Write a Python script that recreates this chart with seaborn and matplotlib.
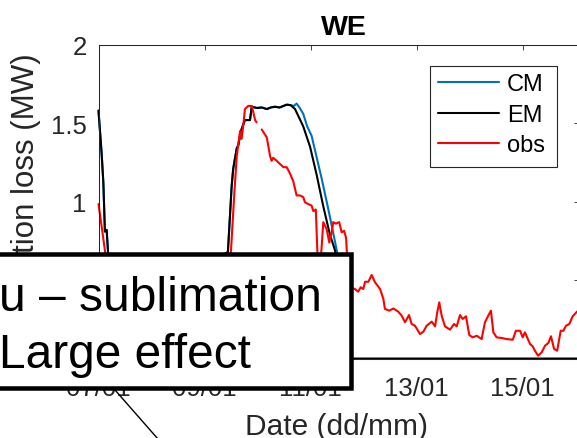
import numpy as np
import pandas as pd
import matplotlib
matplotlib.use("Agg")
import matplotlib.pyplot as plt
import matplotlib.dates as mdates
from matplotlib.patches import Rectangle
from matplotlib.lines import Line2D
import seaborn as sns

# hours after 07/01 00:00 and production loss (MW)
cm_hours = [0, 1.45, 2.2, 2.9, 3.7, 4.4, 5.5, 7, 8, 55.8, 56.4, 58.6, 60.3, 61.0, 62.6, 63.3,
            64.5, 66.3, 68.6, 69.4, 71.6, 74, 76.2, 78, 79.9, 82, 85.2, 87, 88.5, 89.7, 91,
            92.7, 94.5, 96.5, 98.5, 101.1, 104.4, 107.9, 110, 113, 114.5, 218]
cm_mw = [1.58, 1.30, 1.12, 0.81, 0.82, 0.66, 0.35, 0.05, 0, 0, 0.66, 0.68, 1.10, 1.21, 1.34, 1.36,
         1.45, 1.52, 1.52, 1.605, 1.597, 1.60, 1.59, 1.60, 1.605, 1.60, 1.618, 1.615, 1.61, 1.625, 1.60,
         1.56, 1.48, 1.42, 1.30, 1.145, 0.93, 0.69, 0.45, 0.1, 0, 0]

em_hours = [0, 1.45, 2.2, 2.9, 3.7, 4.4, 5.5, 7, 8, 55.8, 56.4, 58.6, 60.3, 61.0, 62.6, 63.3,
            64.5, 66.3, 68.6, 69.4, 71.6, 74, 76.2, 78, 79.9, 82, 85.2, 87, 89, 92.7, 95.8,
            98.8, 101.8, 104.8, 107.1, 109, 112, 113, 218]
em_mw = [1.58, 1.30, 1.12, 0.81, 0.82, 0.66, 0.35, 0.05, 0, 0, 0.66, 0.68, 1.10, 1.21, 1.34, 1.36,
         1.45, 1.52, 1.52, 1.605, 1.597, 1.60, 1.59, 1.60, 1.605, 1.60, 1.618, 1.615, 1.59, 1.48, 1.35,
         1.17, 0.97, 0.79, 0.69, 0.5, 0.1, 0, 0]

obs_hours = [0, 1.45, 2.9, 4, 6, 20, 40, 55, 58.5, 60.0, 61.5, 62.6, 64.1, 64.8, 65.6, 66.3,
             67.8, 69.4, 70.1, 70.9, 71.6, 72.8, 73.9, 76.2, 77.7, 78.4, 79.1, 80.7, 82.2, 83.7,
             85.2, 86.7, 88.2, 89.7, 91.2, 92.7, 93.5, 95.0, 96.5, 97.3, 98.4, 99.6, 100.5, 101.8,
             103.3, 104.5, 105.6, 106.3, 107.5, 109.0, 110.1, 111.2, 112.1, 113, 114.5, 116.1,
             117.6, 118.7, 119.9, 120.7, 122.2, 123.7, 125.2, 127.5, 129.0, 129.7, 131.7, 133.5,
             135.7, 137.3, 138.8, 140.6, 141.8, 143.3, 145.6, 147.1, 148.6, 150.9, 152.4, 153.4,
             154.3, 155.4, 156.9, 159.2, 161.0, 162.2, 163.7, 164.9, 166.4, 167.9, 169.4, 171.3,
             173.5, 175.0, 176.5, 177.7, 178.8, 180.3, 182.6, 184.8, 187.6, 189.0, 190.9, 192.1,
             193.1, 195.4, 196.6, 197.6, 199.1, 200.7, 202.2, 203.7, 204.9, 206.3, 207.7, 209.3,
             210.5, 211.7, 213.2, 214.7, 216.7, 218]
obs_mw = [0.985, 0.84, 0.69, 0.5, 0.35, 0.3, 0.25, 0.3, 0.5, 0.69, 1.05, 1.29, 1.45, 1.40, 1.49, 1.59,
          1.61, 1.61, 1.57, 1.52, 1.505, np.nan, 1.46, 1.41, 1.29, 1.26, 1.28, 1.26, 1.24, 1.22,
          1.22, 1.18, 1.13, 1.04, 1.04, 1.03, 0.996, 0.985, 0.975, 0.94, 0.95, 0.5, 0.6, 0.87,
          0.826, 0.74, 0.805, 0.87, 0.86, 0.87, 0.805, 0.815, 0.77, 0.55, 0.45, 0.444,
          0.427, 0.455, 0.444, 0.49, 0.49, 0.533, 0.487, 0.444, 0.38, 0.317, 0.306, 0.32,
          0.30, 0.274, 0.232, 0.278, 0.221, 0.21, 0.157, 0.172, 0.21, 0.236, 0.206, 0.296,
          0.359, 0.274, 0.206, 0.185, 0.221, 0.206, 0.278, 0.253, 0.27, 0.151, 0.136, 0.146,
          0.125, 0.232, 0.274, 0.306, 0.168, 0.136, 0.132, 0.125, 0.121, 0.178, 0.178, 0.136,
          0.168, 0.094, 0.079, 0.051, 0.019, 0.041, 0.083, 0.1, 0.143, 0.062, 0.051, 0.178,
          0.178, 0.21, 0.221, 0.27, 0.30, 0.31]

series_names = ["CM", "EM", "obs"]
series_colors = ["#0072BD", "#000000", "#FF0000"]
yticks = [0, 0.5, 1, 1.5, 2]
start = pd.Timestamp("2016-01-07")
xtick_dates = pd.date_range(start, periods=5, freq="2D")

frames = []
for name, hrs, vals in zip(series_names, [cm_hours, em_hours, obs_hours], [cm_mw, em_mw, obs_mw]):
    f = pd.DataFrame({"time": start + pd.to_timedelta(hrs, unit="h"), "mw": vals, "series": name})
    f["seg"] = name + f["mw"].isna().cumsum().astype(str)
    frames.append(f.dropna())
df = pd.concat(frames, ignore_index=True)

sns.set_style("white")
plt.rcParams["font.family"] = ["Liberation Sans", "DejaVu Sans"]

W, H = 577, 439
fig = plt.figure(figsize=(W / 100, H / 100), dpi=100)
ax_l, ax_r, ax_t, ax_b = 98.5, 578.5, 45.7, 359.7
ax = fig.add_axes([ax_l / W, 1 - ax_b / H, (ax_r - ax_l) / W, (ax_b - ax_t) / H])


def ax_pt(px, py):
    # picture pixels -> axes fraction
    return (px - ax_l) / (ax_r - ax_l), (ax_b - py) / (ax_b - ax_t)


sns.lineplot(data=df, x="time", y="mw", hue="series", hue_order=series_names,
             palette=dict(zip(series_names, series_colors)), units="seg", estimator=None,
             sort=False, lw=1.5, ax=ax)
for ln in ax.lines:
    ln.set_clip_on(False)

ax.set_xticks(xtick_dates)
ax.xaxis.set_major_formatter(mdates.DateFormatter("%d/%m"))
ax.set_xlim(start, start + pd.Timedelta(hours=(ax_r - ax_l) / 53 * 24))
ax.set_yticks(yticks)
ax.set_yticklabels([f"{v:g}" for v in yticks])
ax.set_ylim(0, 2)

dark = "#262626"
for s in ax.spines.values():
    s.set_color(dark)
    s.set_linewidth(0.75)
ax.tick_params(direction="in", length=3.8, width=0.6, colors=dark, labelsize=18.5,
               top=True, right=True, labeltop=False, labelright=False)
ax.tick_params(axis="x", pad=12.5)
ax.tick_params(axis="y", pad=8.4)

ax.set_title("WE", fontsize=20.5, fontweight="bold", pad=8, color="black", x=0.512)
ax.set_xlabel("Date (dd/mm)", fontsize=21.5, color=dark, va="top")
ax.xaxis.set_label_coords(0.496, -0.170)
ax.set_ylabel("Production loss (MW)", fontsize=22.5, color=dark)
ax.yaxis.set_label_coords(-0.12, 0.5)

# legend: own frame, entries placed inside it
fx0, fy0 = ax_pt(430, 168.3)
fx1, fy1 = ax_pt(557.3, 66.7)
ax.add_patch(Rectangle((fx0, fy0), fx1 - fx0, fy1 - fy0, transform=ax.transAxes,
                       facecolor="white", edgecolor=dark, lw=0.8, zorder=4.9))
handles, labels = ax.get_legend_handles_labels()
leg = ax.legend(handles, labels, loc="upper left", bbox_to_anchor=ax_pt(438, 74.2),
                borderaxespad=0, borderpad=0, fontsize=17, handlelength=2.58,
                handletextpad=0.33, labelspacing=0.365, frameon=False)
for h in leg.get_lines():
    h.set_linewidth(1.5)
for t in leg.get_texts():
    t.set_color("black")

# callout box laid over the figure
box = Rectangle((-20 / W, 1 - 389 / H), 371 / W, (389 - 254.5) / H, transform=fig.transFigure,
                facecolor="white", edgecolor="black", lw=3.25, zorder=10, clip_on=False)
fig.add_artist(box)
fig.text(-1 / W, 1 - 311 / H, "u – sublimation", fontsize=34.5, color="black",
         va="baseline", ha="left", zorder=11)
fig.text(-1 / W, 1 - 368 / H, "Large effect", fontsize=34.5, color="black",
         va="baseline", ha="left", zorder=11)
fig.add_artist(Line2D([115 / W, 165 / W], [1 - 391 / H, 1 - 448 / H], transform=fig.transFigure,
                      color="black", lw=1, zorder=9))

fig.savefig("out.png", dpi=100)
